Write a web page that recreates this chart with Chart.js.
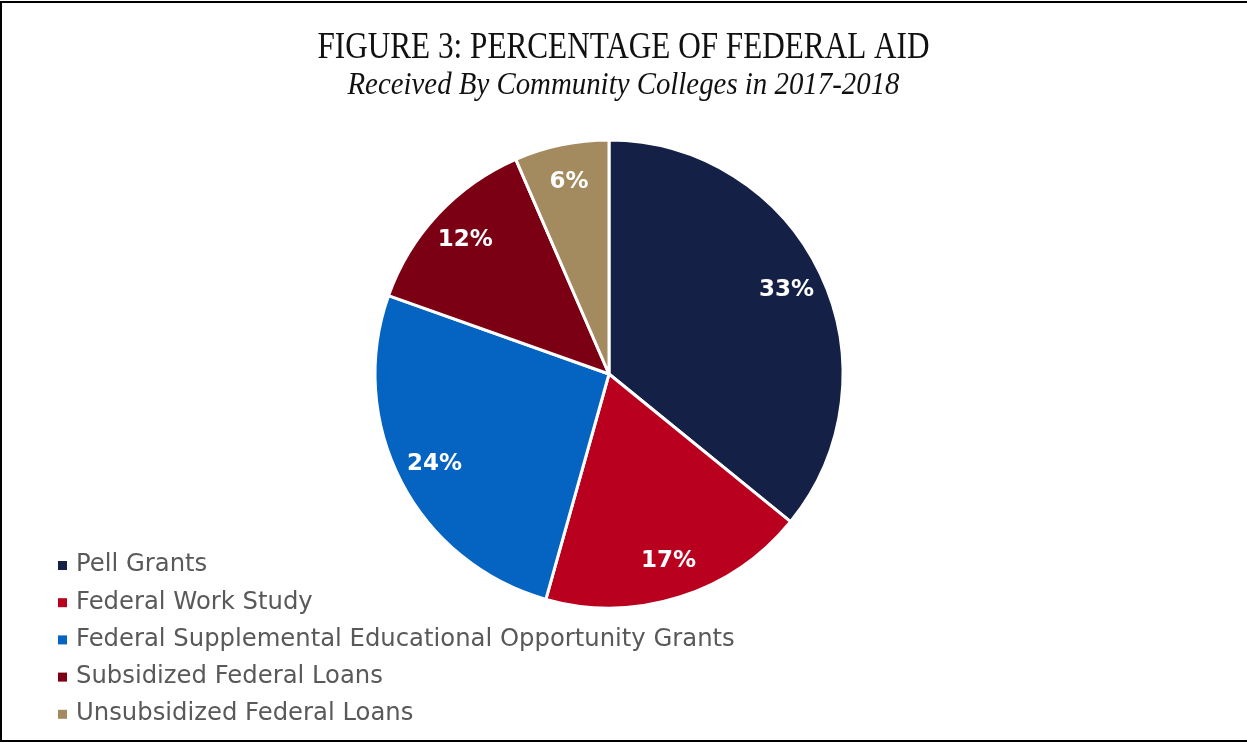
<!DOCTYPE html>
<html>
<head>
<meta charset="utf-8">
<script src="https://cdn.jsdelivr.net/npm/chart.js@4.4.1/dist/chart.umd.min.js"></script>
<style>
  html, body { margin: 0; padding: 0; background: #fff; overflow: hidden; }
  #wrap { position: relative; width: 1247px; height: 743px; }
  #frame { position: absolute; left: 0; top: 1px; width: 1247px; height: 741px;
           border-left: 2px solid #000; border-top: 2px solid #000; border-bottom: 2px solid #000;
           box-sizing: border-box; pointer-events: none; }
  canvas { display: block; }
</style>
</head>
<body>
<div id="wrap">
  <canvas id="aid-chart" width="1247" height="743"></canvas>
  <div id="frame"></div>
</div>
<script>
const titleText = 'FIGURE 3: PERCENTAGE OF FEDERAL AID';
const subtitleText = 'Received By Community Colleges in 2017-2018';
const categories = [
  'Pell Grants',
  'Federal Work Study',
  'Federal Supplemental Educational Opportunity Grants',
  'Subsidized Federal Loans',
  'Unsubsidized Federal Loans'
];
const percentages = [33, 17, 24, 12, 6];
const sliceColors = ['#142045', '#b9001e', '#0563c1', '#7c0013', '#a38b5f'];

// titles drawn by hand so they can be centred on the page, not the pie
const heading = {
  id: 'heading',
  afterDraw(chart) {
    const ctx = chart.ctx;
    const cx = chart.width / 2;
    const drawFit = (text, font, baseline, width) => {
      ctx.font = font;
      const w = ctx.measureText(text).width;
      ctx.save();
      ctx.translate(cx, baseline);
      ctx.scale(width / w, 1);
      ctx.fillText(text, 0, 0);
      ctx.restore();
    };
    ctx.save();
    ctx.fillStyle = '#111';
    ctx.textAlign = 'center';
    ctx.textBaseline = 'alphabetic';
    drawFit(titleText, '37px "Liberation Serif"', 58, 612);
    drawFit(subtitleText, 'italic 31px "Liberation Serif"', 94, 552);
    ctx.restore();
  }
};

const sliceLabels = {
  id: 'sliceLabels',
  afterDatasetsDraw(chart) {
    const ctx = chart.ctx;
    const meta = chart.getDatasetMeta(0);
    ctx.save();
    ctx.fillStyle = '#fff';
    ctx.font = 'bold 23px "DejaVu Sans"';
    ctx.textAlign = 'center';
    ctx.textBaseline = 'middle';
    meta.data.forEach((arc, i) => {
      const { x, y, startAngle, endAngle, outerRadius } = arc.getProps(['x', 'y', 'startAngle', 'endAngle', 'outerRadius'], true);
      const mid = (startAngle + endAngle) / 2;
      const r = outerRadius * 0.84;
      ctx.fillText(percentages[i] + '%', x + Math.cos(mid) * r, y + Math.sin(mid) * r);
    });
    ctx.restore();
  }
};

const sideLegend = {
  id: 'sideLegend',
  afterDraw(chart) {
    const ctx = chart.ctx;
    ctx.save();
    ctx.font = '24.3px "DejaVu Sans"';
    ctx.textBaseline = 'middle';
    categories.forEach((name, i) => {
      const y = 565 + i * 37.2;
      ctx.fillStyle = sliceColors[i];
      ctx.fillRect(58, y - 4, 9, 9);
      ctx.fillStyle = '#595959';
      ctx.fillText(name, 76, y);
    });
    ctx.restore();
  }
};

new Chart(document.getElementById('aid-chart'), {
  type: 'pie',
  data: {
    labels: categories,
    datasets: [{
      data: percentages,
      backgroundColor: sliceColors,
      borderColor: '#fff',
      borderWidth: 3
    }]
  },
  options: {
    responsive: false,
    animation: false,
    devicePixelRatio: 1,
    radius: 234,
    layout: { padding: { top: 141, left: 0, right: 29, bottom: 136 } },
    plugins: {
      legend: { display: false },
      tooltip: { enabled: false },
      title: { display: false }
    }
  },
  plugins: [heading, sliceLabels, sideLegend]
});
</script>
</body>
</html>
